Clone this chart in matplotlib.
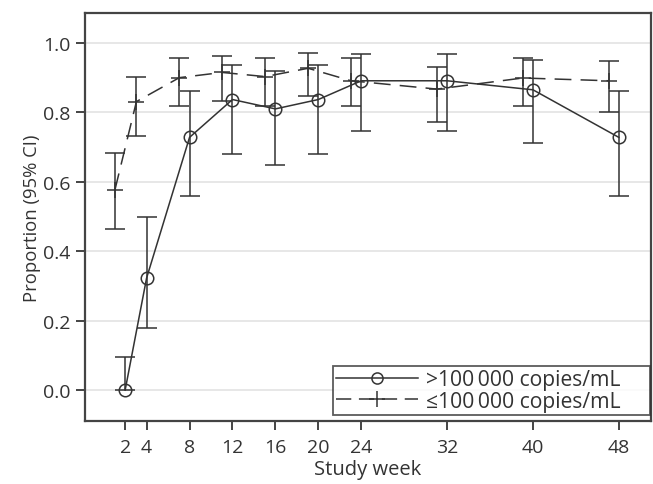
import matplotlib
matplotlib.use("Agg")
import matplotlib.pyplot as plt
from matplotlib.lines import Line2D
import numpy as np

plt.rcParams['font.family'] = ['Open Sans', 'DejaVu Sans']

weeks = [2, 4, 8, 12, 16, 20, 24, 32, 40, 48]

high_prop = [0.000, 0.323, 0.728, 0.837, 0.810, 0.837, 0.891, 0.891, 0.865, 0.728]
high_lo   = [0.000, 0.179, 0.558, 0.679, 0.648, 0.679, 0.745, 0.745, 0.711, 0.558]
high_hi   = [0.096, 0.498, 0.861, 0.937, 0.918, 0.937, 0.968, 0.968, 0.952, 0.861]

low_prop = [0.577, 0.831, 0.900, 0.915, 0.903, 0.927, 0.891, 0.867, 0.899, 0.891]
low_lo   = [0.465, 0.733, 0.818, 0.833, 0.818, 0.848, 0.818, 0.773, 0.818, 0.802]
low_hi   = [0.684, 0.903, 0.956, 0.963, 0.956, 0.972, 0.956, 0.930, 0.956, 0.947]

labels = [">100\u2009000 copies/mL", "\u2264100\u2009000 copies/mL"]
xticks = [2, 4, 8, 12, 16, 20, 24, 32, 40, 48]
yticks = [0.0, 0.2, 0.4, 0.6, 0.8, 1.0]

color = '#333333'
fig = plt.figure(figsize=(6.53, 4.85), dpi=100)
ax = fig.add_axes([0.130, 0.1305, 0.867, 0.8405])

w = np.array(weeks, dtype=float)
offset = -0.95
dash = (11, 6)

hp = np.array(high_prop); lp = np.array(low_prop)
ax.errorbar(w, hp, yerr=[hp - np.array(high_lo), np.array(high_hi) - hp],
            color=color, lw=1.1, elinewidth=1.1, capsize=7, capthick=1.1,
            marker='o', markersize=9, markerfacecolor='none', markeredgewidth=1.1,
            zorder=3)
ax.errorbar(w + offset, lp, yerr=[lp - np.array(low_lo), np.array(low_hi) - lp],
            color=color, lw=1.1, elinewidth=1.1, capsize=7, capthick=1.1,
            marker='+', markersize=11, markeredgewidth=1.1, dashes=dash,
            zorder=3)

ax.set_xlim(-1.75, 51.0)
ax.set_ylim(-0.088, 1.086)
ax.set_xticks(xticks)
ax.set_yticks(yticks)
ax.set_yticklabels([f"{v:.1f}" for v in yticks])
ax.yaxis.grid(True, color='#e3e3e3', lw=1.2, zorder=0)
ax.set_axisbelow(True)

for s in ax.spines.values():
    s.set_color('#444444')
    s.set_linewidth(1.6)
ax.tick_params(axis='both', direction='out', length=6.5, width=1.4, color='#444444',
               labelsize=14, labelcolor='#333333')
ax.tick_params(axis='x', pad=6)
ax.tick_params(axis='y', pad=4)

ax.set_xlabel("Study week", fontsize=14.5, color='#333333', labelpad=2)
ax.set_ylabel("Proportion (95% CI)", fontsize=13.3, color='#333333', labelpad=1)

handles = [
    Line2D([], [], color=color, lw=1.1, marker='o', markersize=8,
           markerfacecolor='none', markeredgewidth=1.1),
    Line2D([], [], color=color, lw=1.1, marker='+', markersize=11,
           markeredgewidth=1.1, dashes=(10, 5)),
]
leg = ax.legend(handles, labels, loc='lower left',
                bbox_to_anchor=(0.438, 0.014, 0.560, 0.12), mode='expand',
                fontsize=15.2, frameon=True, fancybox=False, edgecolor='#333333',
                handlelength=3.9, borderaxespad=0.0, borderpad=0.15,
                labelspacing=0.02, handletextpad=0.35, numpoints=1)
leg.get_frame().set_linewidth(1.3)
for t in leg.get_texts():
    t.set_color('#333333')

fig.savefig("out.png", dpi=100)
